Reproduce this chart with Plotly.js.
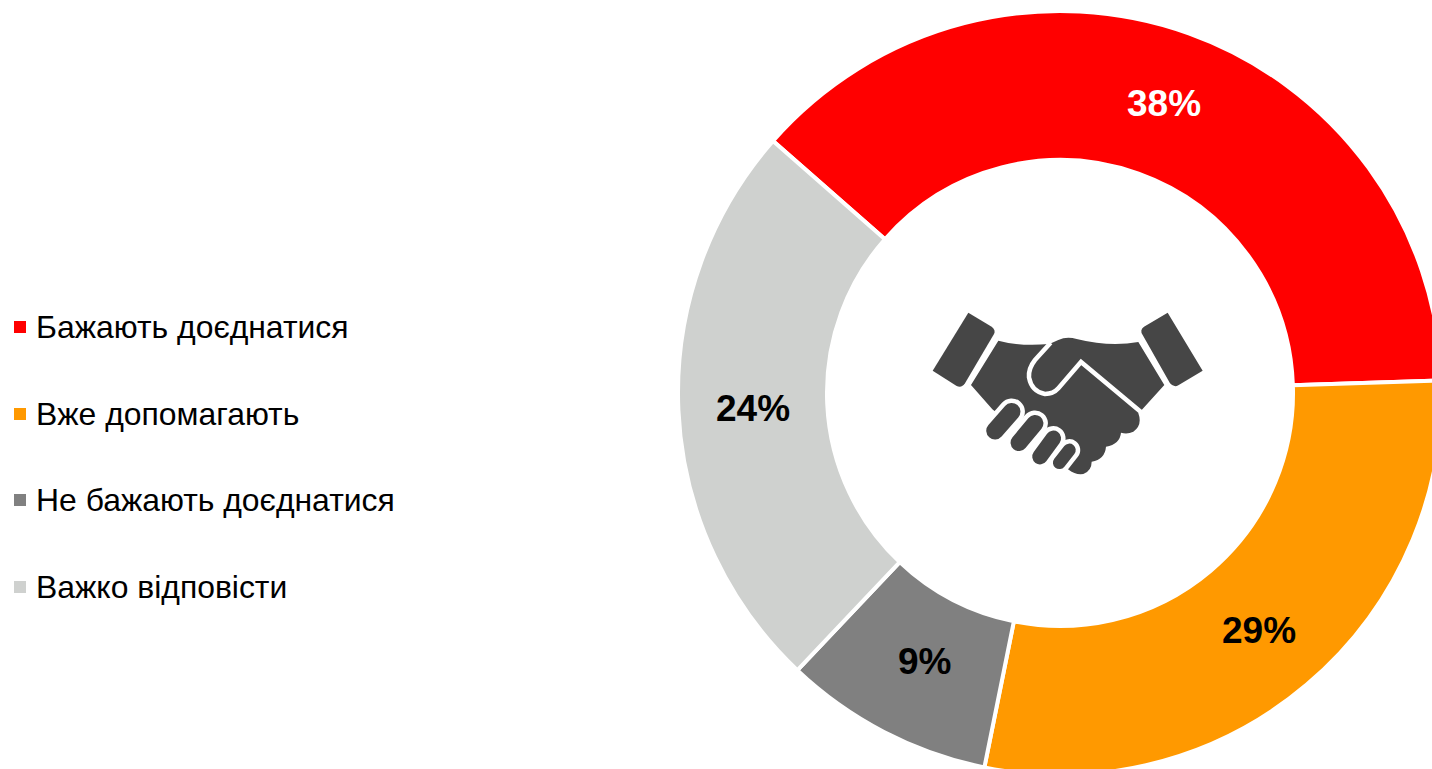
<!DOCTYPE html>
<html>
<head>
<meta charset="utf-8">
<script src="https://cdn.plot.ly/plotly-3.0.1.min.js"></script>
<style>html,body{margin:0;padding:0;width:1432px;height:769px;overflow:hidden;background:#fff}#chart{width:1500px;height:800px}</style>
</head>
<body>
<div id="chart"></div>
<script>
const categories = ['Бажають доєднатися', 'Вже допомагають', 'Не бажають доєднатися', 'Важко відповісти'];
const shares = [38, 28.7, 8.9, 24.4];
const shareLabels = ['38%', '29%', '9%', '24%'];
const sliceColors = ['#FF0000', '#FF9900', '#808080', '#CFD1CF'];
const labelColors = ['#FFFFFF', '#000000', '#000000', '#000000'];
const labelRadii = [307, 309, 302, 307];
const labelShiftX = [1, -1, 4, 0];
const labelShiftY = [0, 2, 0, 1];
const legendRows = [327, 414, 500, 587];

const W = 1500, H = 800;
const CX = 1060, CY = 393, R = 382, ROTATION = -48.7;
const FONT = '"Liberation Sans", Arial, sans-serif';
const ICON = '#464646';

const px = x => x / W;
const py = y => 1 - y / H;

// Icon paths are written in a 3x grid whose origin is (920,300) on the page.
function icon(d) {
  let isX = true;
  return d.replace(/[MLQCZ]|[\d.]+/g, t => {
    if (/[MLQCZ]/.test(t)) { isX = true; return ' ' + t + ' '; }
    const v = parseFloat(t) / 3;
    const out = isX ? px(920 + v) : py(300 + v);
    isX = !isX;
    return out.toFixed(5) + ' ';
  }).trim();
}

function capsule(ax, ay, bx, by, r) {
  const Rc = r + 6, k = 0.5523 * Rc;
  const L = Math.hypot(bx - ax, by - ay);
  const dx = (bx - ax) / L, dy = (by - ay) / L, nx = -dy, ny = dx;
  const p = (cx, cy, a, b) => (cx + dx * a + nx * b).toFixed(2) + ',' + (cy + dy * a + ny * b).toFixed(2);
  return 'M' + p(ax, ay, 0, Rc) + ' L' + p(bx, by, 0, Rc) +
    ' C' + p(bx, by, k, Rc) + ' ' + p(bx, by, Rc, k) + ' ' + p(bx, by, Rc, 0) +
    ' C' + p(bx, by, Rc, -k) + ' ' + p(bx, by, k, -Rc) + ' ' + p(bx, by, 0, -Rc) +
    ' L' + p(ax, ay, 0, -Rc) +
    ' C' + p(ax, ay, -k, -Rc) + ' ' + p(ax, ay, -Rc, -k) + ' ' + p(ax, ay, -Rc, 0) +
    ' C' + p(ax, ay, -Rc, k) + ' ' + p(ax, ay, -k, Rc) + ' ' + p(ax, ay, 0, Rc) + ' Z';
}

const solid = [
  'M145,38 L215,80 Q228,90 222,102 L135,250 Q125,265 110,258 L38,212 Z',
  'M743,38 L848,212 L775,256 Q762,264 750,250 L668,105 Q658,90 672,80 Z',
  'M235,122 Q300,140 388,132 L415,120 Q440,108 470,117 Q570,142 655,126 L733,255 L665,330 L655,340 Q668,375 640,395 Q622,404 603,398 Q600,432 558,440 Q555,478 515,485 Q515,512 490,522 Q465,525 447,510 L217,328 L153,255 Z'
];
const gaps = [
  'M392,128 L345,180 Q325,205 327,232 Q335,275 375,282 Q400,282 415,265 L483,186 L670,342'
];
const fingers = [
  [418, 488, 448, 450, 20],
  [360, 470, 400, 415, 24],
  [297, 428, 345, 370, 26],
  [225, 392, 275, 335, 27]
];

const shapes = [];
solid.forEach(d => shapes.push({type:'path', xref:'paper', yref:'paper', path:icon(d), fillcolor:ICON, line:{width:0}}));
gaps.forEach(d => shapes.push({type:'path', xref:'paper', yref:'paper', path:icon(d), line:{color:'#FFFFFF', width:4.5}}));
fingers.forEach(f => shapes.push({type:'path', xref:'paper', yref:'paper', path:icon(capsule(...f)), fillcolor:ICON, line:{color:'#FFFFFF', width:4.5}}));
categories.forEach((c, i) => shapes.push({
  type:'rect', xref:'paper', yref:'paper',
  x0:px(14), x1:px(26), y0:py(legendRows[i] - 6), y1:py(legendRows[i] + 6),
  fillcolor:sliceColors[i], line:{width:0}
}));

const annotations = categories.map((c, i) => ({
  text:c, xref:'paper', yref:'paper', x:px(34), y:py(legendRows[i]),
  xanchor:'left', yanchor:'middle', showarrow:false, align:'left',
  font:{family:FONT, size:31.9, color:'#000000'}
}));

const total = shares.reduce((a, b) => a + b, 0);
let running = 0;
shares.forEach((v, i) => {
  const mid = (ROTATION + (running + v / 2) / total * 360) * Math.PI / 180;
  running += v;
  annotations.push({
    text:shareLabels[i], xref:'paper', yref:'paper',
    x:px(CX + labelRadii[i] * Math.sin(mid) + labelShiftX[i]),
    y:py(CY - labelRadii[i] * Math.cos(mid) + labelShiftY[i]),
    xanchor:'center', yanchor:'middle', showarrow:false,
    font:{family:FONT, size:37, color:labelColors[i], weight:'bold'}
  });
});

Plotly.newPlot('chart', [{
  type:'pie',
  labels:categories,
  values:shares,
  hole:0.61,
  sort:false,
  direction:'clockwise',
  rotation:ROTATION,
  marker:{colors:sliceColors, line:{color:'#FFFFFF', width:4}},
  textinfo:'none',
  hoverinfo:'label+percent',
  domain:{x:[(CX - R)/W, (CX + R)/W], y:[1 - (CY + R)/H, 1 - (CY - R)/H]}
}], {
  width:W, height:H,
  margin:{l:0, r:0, t:0, b:0},
  paper_bgcolor:'#FFFFFF',
  showlegend:false,
  shapes:shapes,
  annotations:annotations
}, {displayModeBar:false, staticPlot:true});
</script>
</body>
</html>
